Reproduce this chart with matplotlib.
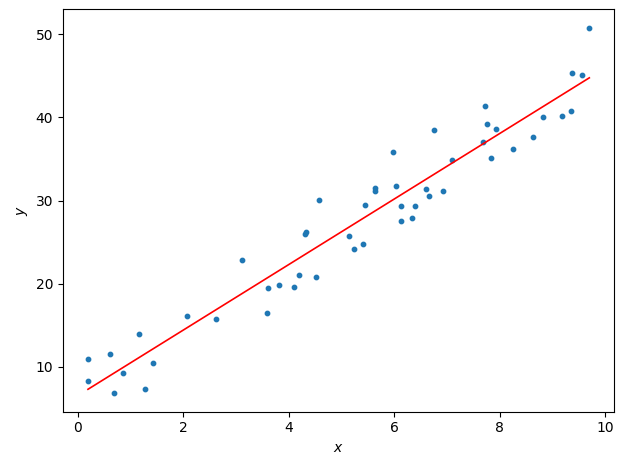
import matplotlib
matplotlib.use("Agg")
import matplotlib.pyplot as plt
import numpy as np

x = [0.19, 0.19, 0.6, 0.69, 0.86, 1.16, 1.27, 1.42, 2.07, 2.61, 3.12, 3.58, 3.6, 3.81, 4.1, 4.2,
     4.31, 4.32, 4.51, 4.57, 5.15, 5.24, 5.41, 5.45, 5.63, 5.63, 5.97, 6.04, 6.12, 6.12, 6.34, 6.4,
     6.6, 6.66, 6.75, 6.92, 7.09, 7.69, 7.72, 7.76, 7.84, 7.93, 8.26, 8.64, 8.82, 9.18, 9.35, 9.37,
     9.57, 9.7]
y = [11.0, 8.3, 11.5, 6.8, 9.2, 14.0, 7.3, 10.5, 16.1, 15.7, 22.9, 16.5, 19.5, 19.8, 19.6, 21.0,
     26.0, 26.2, 20.8, 30.1, 25.7, 24.2, 24.8, 29.5, 31.5, 31.2, 35.8, 31.7, 29.3, 27.5, 27.9, 29.3,
     31.4, 30.6, 38.5, 31.1, 34.9, 37.0, 41.4, 39.2, 35.1, 38.6, 36.2, 37.6, 40.1, 40.2, 40.8, 45.4,
     45.1, 50.8]
intercept = 6.55
slope = 3.94

fig, ax = plt.subplots(figsize=(6.3, 4.7), dpi=100)
ax.scatter(x, y, s=10)
xa = np.array(x)
ax.plot(xa, intercept + slope * xa, color="red", linewidth=1.2)
ax.set_xlabel("$x$")
ax.set_ylabel("$y$")
fig.tight_layout()
fig.subplots_adjust(top=0.98)
fig.savefig("out.png")
